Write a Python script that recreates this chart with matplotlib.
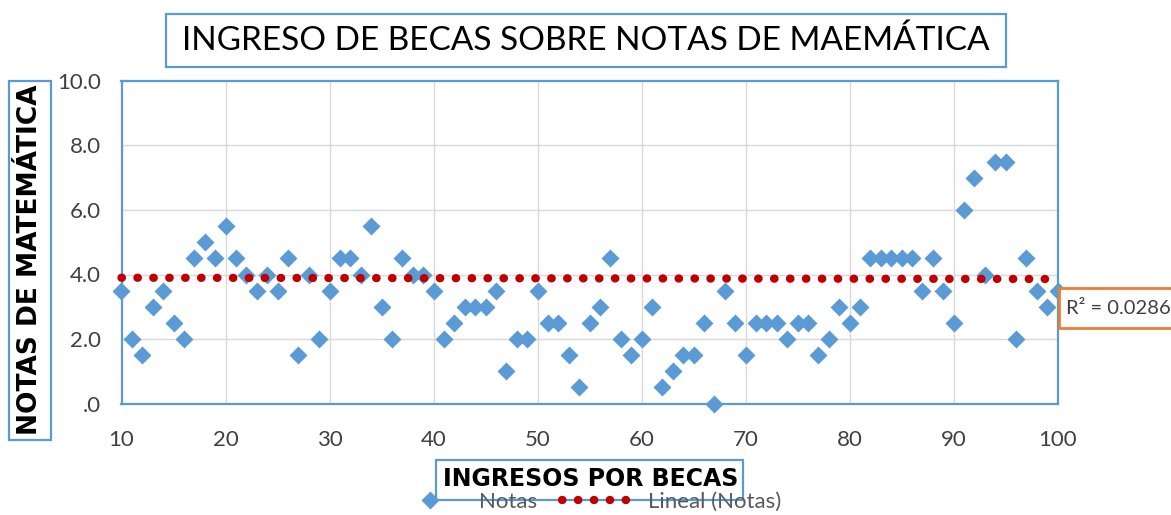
import matplotlib
matplotlib.use("Agg")
import matplotlib.pyplot as plt
from matplotlib.lines import Line2D
from matplotlib.patches import Rectangle

# data
INGRESOS = list(range(10, 101))
NOTAS = [
    3.5, 2.0, 1.5, 3.0, 3.5, 2.5, 2.0, 4.5, 5.0, 4.5,   # 10-19
    5.5, 4.5, 4.0, 3.5, 4.0, 3.5, 4.5, 1.5, 4.0, 2.0,   # 20-29
    3.5, 4.5, 4.5, 4.0, 5.5, 3.0, 2.0, 4.5, 4.0, 4.0,   # 30-39
    3.5, 2.0, 2.5, 3.0, 3.0, 3.0, 3.5, 1.0, 2.0, 2.0,   # 40-49
    3.5, 2.5, 2.5, 1.5, 0.5, 2.5, 3.0, 4.5, 2.0, 1.5,   # 50-59
    2.0, 3.0, 0.5, 1.0, 1.5, 1.5, 2.5, 0.0, 3.5, 2.5,   # 60-69
    1.5, 2.5, 2.5, 2.5, 2.0, 2.5, 2.5, 1.5, 2.0, 3.0,   # 70-79
    2.5, 3.0, 4.5, 4.5, 4.5, 4.5, 4.5, 3.5, 4.5, 3.5,   # 80-89
    2.5, 6.0, 7.0, 4.0, 7.5, 7.5, 2.0, 4.5, 3.5, 3.0,   # 90-99
    3.5,                                                 # 100
]
TREND_X = [10, 100]
TREND_Y = [3.90, 3.86]
R2_TEXT = "R² = 0.0286"

XTICKS = [10, 20, 30, 40, 50, 60, 70, 80, 90, 100]
YTICKS = [0, 2, 4, 6, 8, 10]
YTICK_LABELS = [".0", "2.0", "4.0", "6.0", "8.0", "10.0"]

TITLE = "INGRESO DE BECAS SOBRE NOTAS DE MAEMÁTICA"
XLABEL = "INGRESOS POR BECAS"
YLABEL = "NOTAS DE MATEMÁTICA"

C_POINT = "#5B9BD5"
C_TREND = "#C00000"
C_BOX = "#5B9BD5"
C_R2 = "#ED7D31"
C_GRID = "#D9D9D9"
C_TEXT = "#404040"

W, H = 1171, 515
FONT = ["Lato", "DejaVu Sans"]
HEAVY = ["DejaVu Sans"]
TREND_STYLE = dict(color=C_TREND, lw=6.0, ls=(0, (0.05, 1.86)),
                   dash_capstyle="round")


def fig_rect(x0, y0, x1, y1):
    # pixel box (top-left origin) -> figure fraction [l, b, w, h]
    return [x0 / W, 1 - y1 / H, (x1 - x0) / W, (y1 - y0) / H]


def add_box(fig, x0, y0, x1, y1, color, lw=1.6):
    l, b, w, h = fig_rect(x0, y0, x1, y1)
    fig.add_artist(Rectangle((l, b), w, h, transform=fig.transFigure,
                             fc="white", ec=color, lw=lw, zorder=3))


fig = plt.figure(figsize=(W / 100, H / 100), dpi=100)
ax = fig.add_axes(fig_rect(121.5, 81, 1057.5, 403.5))

ax.grid(True, color=C_GRID, lw=1.0)
ax.set_axisbelow(True)

ax.plot(INGRESOS, NOTAS, ls="none", marker="D", ms=9.2, mfc=C_POINT,
        mec="none", clip_on=False, zorder=3)
ax.plot(TREND_X, TREND_Y, clip_on=False, zorder=4, **TREND_STYLE)

ax.set_xlim(10, 100)
ax.set_ylim(0, 10)
ax.set_xticks(XTICKS)
ax.set_yticks(YTICKS)
ax.set_yticklabels(YTICK_LABELS)
ax.tick_params(length=0, labelsize=16, labelcolor=C_TEXT)
ax.tick_params(axis="y", pad=15)
ax.tick_params(axis="x", pad=19)
for lab in ax.get_xticklabels() + ax.get_yticklabels():
    lab.set_fontfamily(FONT)
for sp in ax.spines.values():
    sp.set_color(C_BOX)
    sp.set_linewidth(1.6)

# title
add_box(fig, 166, 14, 1006, 67, C_BOX)
fig.text(586 / W, 1 - 41 / H, TITLE, ha="center", va="center",
         fontsize=24, family=FONT, color="black", zorder=4)

# y label
add_box(fig, 9, 81, 51, 440, C_BOX)
fig.text(30 / W, 1 - 260 / H, YLABEL, ha="center", va="center", rotation=90,
         fontsize=19, fontweight="bold", family=HEAVY, color="black", zorder=4)

# legend (drawn before x label box, which sits on top of it)
handles = [
    Line2D([], [], ls="none", marker="D", ms=9.2, mfc=C_POINT, mec="none"),
    Line2D([], [], **TREND_STYLE),
]
fig.legend(handles, ["Notas", "Lineal (Notas)"], loc="center",
           bbox_to_anchor=(587 / W, 1 - 502 / H), ncol=2, frameon=False,
           handlelength=3.4, handletextpad=0.5, columnspacing=1.1,
           prop={"family": FONT, "size": 16}, labelcolor="#595959")

# x label
add_box(fig, 436, 460, 743, 500, C_BOX)
fig.text(591 / W, 1 - 479 / H, XLABEL, ha="center", va="center",
         fontsize=17, fontweight="bold", family=HEAVY, color="black", zorder=4)

# R^2 label
add_box(fig, 1059, 288, 1190, 328, C_R2, lw=2.0)
fig.text(1066 / W, 1 - 309 / H, R2_TEXT, ha="left", va="center",
         fontsize=14.5, family=FONT, color=C_TEXT, zorder=4)

fig.savefig("out.png", dpi=100)
